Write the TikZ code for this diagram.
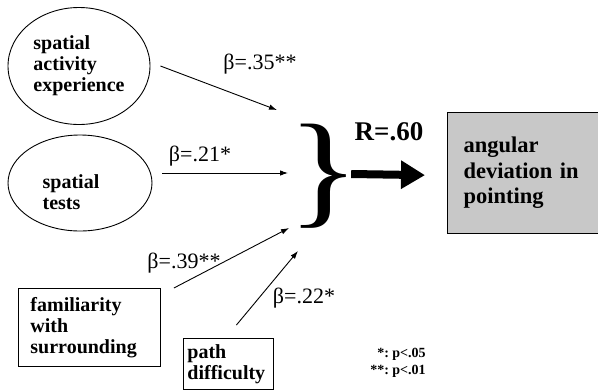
\documentclass[tikz,border=0pt]{standalone}
\usepackage{fontspec}
\setmainfont{Liberation Serif}
\usepackage{tikz}
\usetikzlibrary{positioning,arrows.meta,shapes.geometric}
\definecolor{dvgrey}{RGB}{200,200,200}
\tikzset{
  txt/.style={font=\fontsize{20}{21}\selectfont\bfseries, align=left, inner sep=0pt},
  lat/.style={ellipse, draw, line width=0.9pt, inner sep=0pt},
  obs/.style={txt, draw, line width=0.9pt, rectangle, anchor=north west},
  dv/.style={txt, font=\fontsize{22.5}{25.5}\selectfont\bfseries, draw, line width=1.3pt,
             fill=dvgrey, anchor=north west, minimum width=150pt, minimum height=121pt},
  flow/.style={-{Latex[length=8pt,width=5.5pt]}, line width=0.9pt},
  big/.style={-{Triangle[length=24pt,width=27pt]}, line width=8pt},
  coef/.style={font=\fontsize{22}{24}\selectfont},
}
\begin{document}
\begin{tikzpicture}[x=1pt,y=-1pt]
\useasboundingbox (0,0) rectangle (598,389);
% predictors
\node[lat, txt, minimum width=142pt, minimum height=117pt] (act) at (79,66)
  {spatial\\activity\\experience};
\node[lat, minimum width=144pt, minimum height=96pt] (tests) at (80,183) {};
\node[txt] (teststxt) at (71,192) {spatial\\tests};
\node[obs, minimum width=142pt, minimum height=78pt, text width=118pt, inner xsep=12pt]
  (fam) at (18,288) {familiarity\\with\\surrounding};
\node[obs, minimum width=90pt, minimum height=51pt, text width=82pt, inner xsep=4pt,
  inner ysep=3pt] (diff) at (183,338) {path\\difficulty};
% joint effect
\node[font=\fontsize{126}{126}\selectfont, inner sep=0pt] (brace) at (324,176)
  {\makebox[42pt]{\scalebox{1.2}[1]{\}}}};
\node[font=\fontsize{27}{29}\selectfont\bfseries, inner sep=0pt] (R) at (389,132) {R=.60};
\node[dv, text width=132pt, inner xsep=16pt] (dev) at (447,112)
  {angular\\deviation in\\pointing};
\draw[big] ([xshift=6pt,yshift=2pt]brace.east) -- ([xshift=-22pt,yshift=-2pt]dev.west);
% path coefficients
\coordinate (in1) at (277,110);
\coordinate (in2) at (288,173);
\coordinate (in3) at (289,228);
\coordinate (in4) at (298,251);
\draw[flow] ([xshift=10pt]act.east) -- (in1);
\draw[flow] ([xshift=10pt,yshift=10pt]tests.east) -- (in2);
\draw[flow] ([xshift=13pt]fam.north east) -- (in3);
\draw[flow] ([xshift=8pt,yshift=13pt]diff.north) -- (in4);
\node[coef] (b1) at (260,64) {β=.35**};
\node[coef] (b2) at (200,156) {β=.21*};
\node[coef] (b3) at (184,263) {β=.39**};
\node[coef] (b4) at (304,298) {β=.22*};
% significance
\node[font=\fontsize{14}{17}\selectfont\bfseries, inner sep=0pt] (sig) at (398,363)
  {\begin{tabular}{@{}r@{~}l@{}}*: & p<.05\\ {**}: & p<.01\end{tabular}};
\end{tikzpicture}
\end{document}
